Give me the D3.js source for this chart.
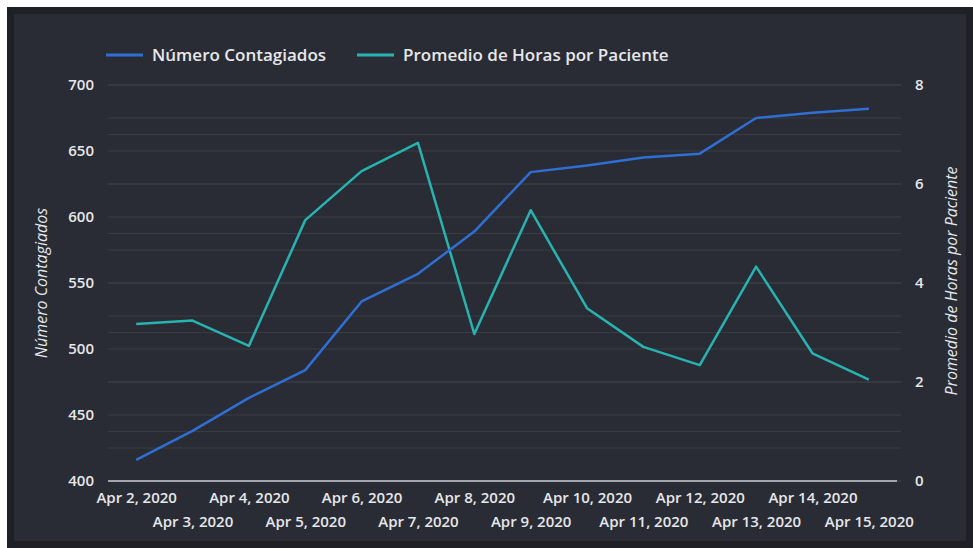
<!DOCTYPE html>
<html>
<head>
<meta charset="utf-8">
<script src="https://cdn.jsdelivr.net/npm/d3@7"></script>
<style>
  html, body { margin: 0; padding: 0; background: #fff; }
  svg { display: block; font-family: 'Open Sans', sans-serif; }
  svg text { font-family: 'Open Sans', sans-serif; }
</style>
</head>
<body>
<div class="svg-container"></div>
<script>
// chart data
const dates = ['Apr 2, 2020', 'Apr 3, 2020', 'Apr 4, 2020', 'Apr 5, 2020', 'Apr 6, 2020', 'Apr 7, 2020', 'Apr 8, 2020',
    'Apr 9, 2020', 'Apr 10, 2020', 'Apr 11, 2020', 'Apr 12, 2020', 'Apr 13, 2020', 'Apr 14, 2020', 'Apr 15, 2020'];
const contagiados = [416, 438, 463, 484, 536, 557, 589, 634, 639, 645, 648, 675, 679, 682];
const horas = [3.17, 3.24, 2.73, 5.27, 6.26, 6.83, 2.97, 5.47, 3.49, 2.71, 2.34, 4.33, 2.58, 2.05];
const leftTicks = [400, 450, 500, 550, 600, 650, 700];
const rightTicks = [0, 2, 4, 6, 8];
const seriesNames = ['Número Contagiados', 'Promedio de Horas por Paciente'];

const width = 973;
const height = 548;
const plot = { left: 108, right: 897, top: 85, bottom: 481 };
const blue = '#2f6fd3';
const teal = '#27b3b0';
const textColor = '#e6e7ea';

const svg = d3.select('.svg-container')
    .append('svg')
    .attr('width', width)
    .attr('height', height);

// frame + panel
svg.append('rect').attr('x', 7).attr('y', 7).attr('width', width - 7).attr('height', height - 7).attr('fill', '#1f2026');
svg.append('rect').attr('x', 14).attr('y', 14).attr('width', width - 21).attr('height', height - 21).attr('fill', '#2a2c35');

// scales
const x = d3.scalePoint().domain(dates).range([plot.left, plot.right]).padding(0.5);
const yLeft = d3.scaleLinear().domain([400, 700]).range([plot.bottom, plot.top]);
const yRight = d3.scaleLinear().domain([0, 8]).range([plot.bottom, plot.top]);

// gridlines: left every 25, right every 1
const grid = svg.append('g').attr('class', 'grid');
const gridVals = d3.range(400, 701, 25).map((v) => yLeft(v))
    .concat(d3.range(0, 9, 1).map((v) => yRight(v)));
grid.selectAll('line')
    .data(gridVals)
    .enter()
    .append('line')
    .attr('x1', plot.left)
    .attr('x2', plot.right + 4)
    .attr('y1', (d) => d)
    .attr('y2', (d) => d)
    .attr('stroke', '#3a3c45')
    .attr('stroke-width', 1);

// baseline
svg.append('line')
    .attr('x1', plot.left).attr('x2', plot.right)
    .attr('y1', plot.bottom).attr('y2', plot.bottom)
    .attr('stroke', '#c9cbd0').attr('stroke-width', 1.5);

// left axis
const leftAxis = svg.append('g')
    .attr('transform', `translate(${plot.left - 14},0)`)
    .call(d3.axisLeft(yLeft).tickValues(leftTicks).tickSize(0).tickPadding(0));
leftAxis.attr('font-family', null);
leftAxis.select('.domain').remove();
leftAxis.selectAll('text').attr('fill', textColor).style('font-size', '15px').style('font-weight', 600);

// right axis
const rightAxis = svg.append('g')
    .attr('transform', `translate(${plot.right + 18},0)`)
    .call(d3.axisRight(yRight).tickValues(rightTicks).tickSize(0).tickPadding(0));
rightAxis.attr('font-family', null);
rightAxis.select('.domain').remove();
rightAxis.selectAll('text').attr('fill', textColor).style('font-size', '15px').style('font-weight', 600);

// x axis labels, staggered in two rows
const xAxis = svg.append('g')
    .attr('transform', `translate(0,${plot.bottom})`)
    .call(d3.axisBottom(x).tickSize(0).tickPadding(0));
xAxis.attr('font-family', null);
xAxis.select('.domain').remove();
xAxis.selectAll('text')
    .attr('fill', textColor)
    .style('font-size', '15px')
    .style('font-weight', 600)
    .attr('dy', 0)
    .attr('y', (d, i) => (i % 2 === 0 ? 22 : 46));

// axis titles
svg.append('text')
    .attr('transform', `translate(47,${(plot.top + plot.bottom) / 2}) rotate(-90)`)
    .attr('text-anchor', 'middle')
    .attr('fill', textColor)
    .style('font-size', '16px')
    .style('font-style', 'italic')
    .text(seriesNames[0]);
svg.append('text')
    .attr('transform', `translate(957,${(plot.top + plot.bottom) / 2 - 2}) rotate(-90)`)
    .attr('text-anchor', 'middle')
    .attr('fill', textColor)
    .style('font-size', '16px')
    .style('font-style', 'italic')
    .text(seriesNames[1]);

// lines
const lineLeft = d3.line().x((d, i) => x(dates[i])).y((d) => yLeft(d));
const lineRight = d3.line().x((d, i) => x(dates[i])).y((d) => yRight(d));

svg.append('path')
    .datum(horas)
    .attr('d', lineRight)
    .attr('fill', 'none')
    .attr('stroke', teal)
    .attr('stroke-width', 2.5)
    .attr('stroke-linejoin', 'round');

svg.append('path')
    .datum(contagiados)
    .attr('d', lineLeft)
    .attr('fill', 'none')
    .attr('stroke', blue)
    .attr('stroke-width', 2.5)
    .attr('stroke-linejoin', 'round');

// legend
const legend = [
    { name: seriesNames[0], color: blue, x: 106 },
    { name: seriesNames[1], color: teal, x: 357 },
];
const lg = svg.selectAll('.legend')
    .data(legend)
    .enter()
    .append('g')
    .attr('class', 'legend')
    .attr('transform', (d) => `translate(${d.x},55)`);
lg.append('line')
    .attr('x1', 0).attr('x2', 37)
    .attr('y1', 0).attr('y2', 0)
    .attr('stroke', (d) => d.color)
    .attr('stroke-width', 3);
lg.append('text')
    .attr('x', 46)
    .attr('dy', '0.35em')
    .attr('fill', textColor)
    .style('font-size', '17px')
    .style('font-weight', 600)
    .text((d) => d.name);
</script>
</body>
</html>
